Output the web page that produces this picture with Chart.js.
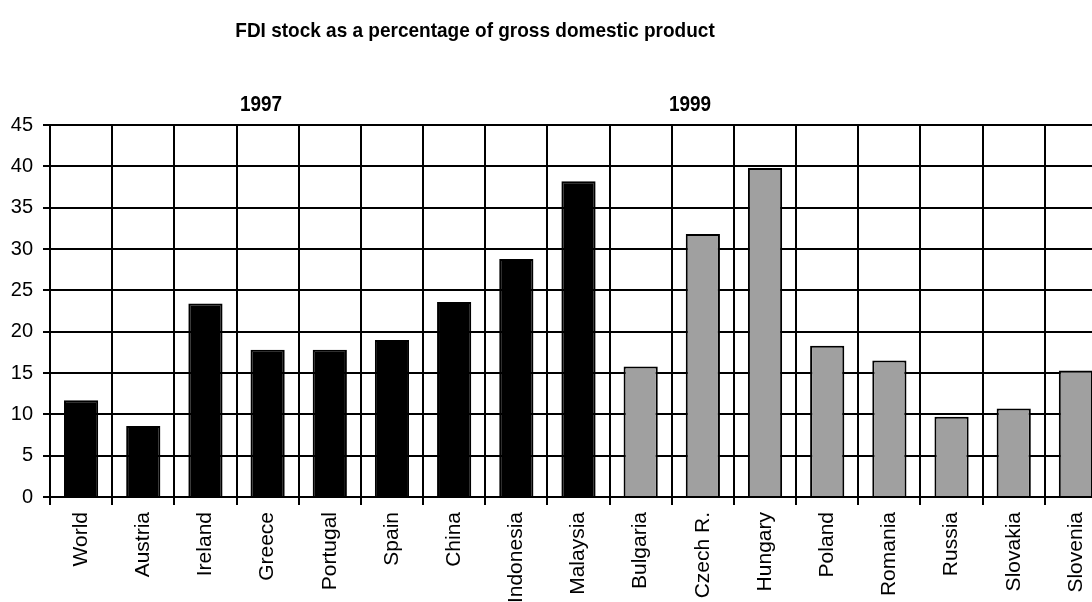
<!DOCTYPE html>
<html>
<head>
<meta charset="utf-8">
<title>FDI stock as a percentage of gross domestic product</title>
<script src="https://cdn.jsdelivr.net/npm/chart.js@4"></script>
<style>
    html, body { margin: 0; padding: 0; overflow: hidden; background: #fff; }
    #wrap { width: 1120px; height: 602px; }
</style>
</head>
<body>
<div id="wrap"><canvas id="fdiChart"></canvas></div>
<script>
var chartTitle = 'FDI stock as a percentage of gross domestic product';

// 1997 group (black bars)
var countries1997 = ['World', 'Austria', 'Ireland', 'Greece', 'Portugal', 'Spain', 'China', 'Indonesia', 'Malaysia'];
var fdi1997 = [11.7, 8.6, 23.4, 17.8, 17.8, 19.0, 23.6, 28.8, 38.2];

// 1999 group (grey bars)
var countries1999 = ['Bulgaria', 'Czech R.', 'Hungary', 'Poland', 'Romania', 'Russia', 'Slovakia', 'Slovenia'];
var fdi1999 = [15.8, 31.8, 39.8, 18.3, 16.5, 9.7, 10.7, 15.3];

var yMin = 0, yMax = 45, yStep = 5;

var fontFamily = '"Liberation Sans", Arial, sans-serif';

var labels = countries1997.concat(countries1999);
var values = fdi1997.concat(fdi1999);
var colors = countries1997.map(function () { return '#000000'; })
    .concat(countries1999.map(function () { return '#a0a0a0'; }));

// draws text a bit condensed, like the original picture
function condensedText(ctx, text, x, y, size, squeeze) {
    ctx.save();
    ctx.translate(x, y);
    ctx.scale(squeeze, 1);
    ctx.font = 'bold ' + size + 'px ' + fontFamily;
    ctx.fillText(text, 0, 0);
    ctx.restore();
}

var textPlugin = {
    id: 'texts',
    afterDraw: function (chart) {
        var ctx = chart.ctx;
        ctx.save();
        ctx.fillStyle = '#000';
        ctx.textAlign = 'center';
        ctx.textBaseline = 'middle';
        condensedText(ctx, chartTitle, 475, 31, 21, 0.905);
        condensedText(ctx, '1997', 261, 105, 22, 0.86);
        condensedText(ctx, '1999', 690, 105, 22, 0.86);
        ctx.restore();
    }
};

new Chart(document.getElementById('fdiChart'), {
    type: 'bar',
    data: {
        labels: labels,
        datasets: [{
            data: values,
            backgroundColor: colors,
            borderColor: '#000',
            borderWidth: 2,
            barPercentage: 0.55,
            categoryPercentage: 1
        }]
    },
    plugins: [textPlugin],
    options: {
        responsive: true,
        maintainAspectRatio: false,
        animation: false,
        layout: {
            padding: { top: 125, right: 13, left: 0, bottom: 0 }
        },
        plugins: {
            legend: { display: false },
            title: { display: false },
            tooltip: { enabled: false }
        },
        scales: {
            x: {
                grid: {
                    offset: true,
                    color: '#000',
                    lineWidth: 2,
                    tickLength: 8
                },
                border: { color: '#000', width: 2 },
                ticks: {
                    color: '#000',
                    font: { family: fontFamily, size: 21 },
                    minRotation: 90,
                    maxRotation: 90,
                    padding: 7,
                    autoSkip: false
                },
                afterFit: function (scale) {
                    scale.height = 105;
                    scale.paddingLeft = 0;
                    scale.paddingRight = 0;
                }
            },
            y: {
                min: yMin,
                max: yMax,
                grid: {
                    color: '#000',
                    lineWidth: 2,
                    tickLength: 7
                },
                border: { color: '#000', width: 2 },
                ticks: {
                    stepSize: yStep,
                    color: '#000',
                    font: { family: fontFamily, size: 20 },
                    padding: 10
                },
                afterFit: function (scale) {
                    scale.width = 50;
                    scale.paddingTop = 0;
                    scale.paddingBottom = 0;
                }
            }
        }
    }
});
</script>
</body>
</html>
